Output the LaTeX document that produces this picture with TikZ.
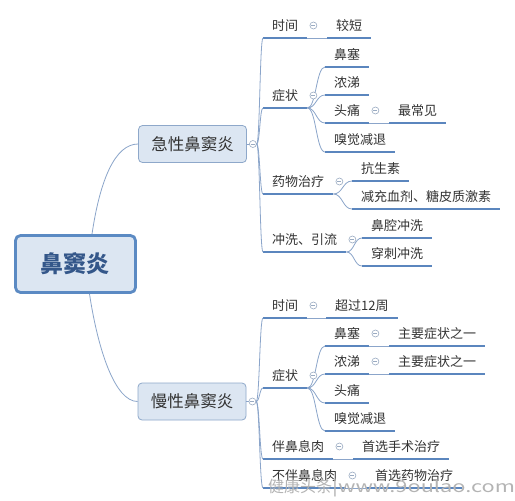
\documentclass[tikz,border=0pt]{standalone}
\usepackage{fontspec}
\usepackage{graphicx}
\setmainfont{Noto Sans CJK SC}
\usetikzlibrary{calc}
\definecolor{ulc}{HTML}{5B86BE}
\definecolor{linkc}{HTML}{8BA5CA}
\definecolor{boxfill}{HTML}{DCE6F2}
\definecolor{boxdraw}{HTML}{8EA8CA}
\definecolor{rootdraw}{HTML}{5B8AC3}
\definecolor{roottext}{HTML}{34578A}
\definecolor{txt}{HTML}{333333}
\definecolor{colc}{HTML}{9AABC2}
\definecolor{wmc}{HTML}{B4B4B4}
\tikzset{
  leaf/.style={anchor=south west, inner xsep=9pt, inner ysep=4.5pt,
    text height=9.5pt, text depth=2.75pt,
    font=\fontsize{13}{13}\selectfont, text=txt},
  ul/.style={draw=ulc, line width=2.2pt},
  link/.style={draw=linkc, line width=0.8pt},
  sconn/.style={to path={let \p1=(\tikztostart),\p2=(\tikztotarget) in
    .. controls ({(\x1+\x2)/2},\y1) and ({(\x1+\x2)/2},\y2) .. (\tikztotarget)}},
  lonebox/.style={draw=boxdraw, fill=boxfill, line width=0.8pt, rounded corners=4pt,
    minimum width=108pt, minimum height=37pt, inner sep=0pt,
    font=\fontsize{16.5}{16.5}\selectfont, text=txt},
  rootbox/.style={draw=rootdraw, fill=boxfill, line width=2.8pt, rounded corners=5pt,
    minimum width=120pt, minimum height=57pt, inner sep=0pt,
    font=\fontsize{23}{23}\selectfont\bfseries, text=roottext},
  colnode/.style={circle, draw=colc, fill=white, line width=0.6pt, minimum size=7pt,
    inner sep=0pt, path picture={\draw[colc, line width=0.6pt]
      ([xshift=-2pt]path picture bounding box.center) -- ([xshift=2pt]path picture bounding box.center);}},
  wmtext/.style={font=\fontsize{16}{16}\selectfont, inner sep=0pt, text=wmc,
    text height=11pt, text depth=2.5pt}
}
\newcommand\leafnode[4]{\node[leaf] (#1) at (#2,#3) {#4}; \draw[ul] (#1.south west) -- (#1.south east);}
\newcommand\colat[2]{\node[colnode] (#1) at ($(#2.south east)+(6,-12.5)$) {};}
\begin{document}
\begin{tikzpicture}[x=1pt,y=-1pt]
\useasboundingbox (0,0) rectangle (515,501);
\fill[white] (0,0) rectangle (515,501);

% main nodes
\node[rootbox] (root) at (75.5,264) {鼻窦炎};
\node[lonebox] (acute) at (192.5,144) {急性鼻窦炎};
\node[lonebox] (chronic) at (192,401.5) {慢性鼻窦炎};

% root links
\draw[link] ([xshift=16.5pt]root.north) .. controls (100,180) and (115,144) .. (acute.west);
\draw[link] ([xshift=14pt]root.south) .. controls (98,350) and (115,401.5) .. (chronic.west);

% ---------- acute ----------
\leafnode{a1}{263}{38}{时间}
\leafnode{a2}{263}{108}{症状}
\leafnode{a3}{263}{194}{药物治疗}
\leafnode{a4}{263}{252}{冲洗、引流}

\leafnode{a11}{327}{38}{较短}
\leafnode{a21}{325}{67}{鼻塞}
\leafnode{a22}{325}{95}{浓涕}
\leafnode{a23}{325}{123}{头痛}
\leafnode{a24}{325}{152}{嗅觉减退}
\leafnode{a231}{389}{123}{最常见}
\leafnode{a31}{352}{181}{抗生素}
\leafnode{a32}{352}{209}{减充血剂、糖皮质激素}
\leafnode{a41}{362}{238}{鼻腔冲洗}
\leafnode{a42}{362}{266}{穿刺冲洗}

\draw[link] (acute.east) -- ++(5,0);
\node[colnode] (ca) at ($(acute.east)+(6,0)$) {};
\foreach \nd in {a1,a2,a3,a4} \draw[link] (ca.east) to[sconn] (\nd.south west);
\draw[link] (a1.south east) -- (a11.south west);
\foreach \nd in {a21,a22,a23,a24} \draw[link] (a2.south east) to[sconn] (\nd.south west);
\draw[link] (a23.south east) -- (a231.south west);
\foreach \nd in {a31,a32} \draw[link] (a3.south east) to[sconn] (\nd.south west);
\foreach \nd in {a41,a42} \draw[link] (a4.south east) to[sconn] (\nd.south west);
\colat{ka1}{a1}
\colat{ka2}{a2}
\colat{ka3}{a3}
\colat{ka4}{a4}
\colat{ka23}{a23}

% ---------- chronic ----------
\leafnode{c1}{263}{318}{时间}
\leafnode{c2}{263}{388}{症状}
\leafnode{c3}{263}{459}{伴鼻息肉}
\leafnode{c4}{263}{488}{不伴鼻息肉}

\leafnode{c11}{326}{318}{超过12周}
\leafnode{c21}{325}{346}{鼻塞}
\leafnode{c22}{325}{374}{浓涕}
\leafnode{c23}{325}{403}{头痛}
\leafnode{c24}{325}{431}{嗅觉减退}
\leafnode{c211}{389}{346}{主要症状之一}
\leafnode{c221}{389}{374}{主要症状之一}
\leafnode{c31}{353}{459}{首选手术治疗}
\leafnode{c41}{366}{488}{首选药物治疗}

\draw[link] (chronic.east) -- ++(6,0);
\node[colnode] (cc) at ($(chronic.east)+(6,0)$) {};
\foreach \nd in {c1,c2,c3,c4} \draw[link] (cc.east) to[sconn] (\nd.south west);
\draw[link] (c1.south east) -- (c11.south west);
\foreach \nd in {c21,c22,c23,c24} \draw[link] (c2.south east) to[sconn] (\nd.south west);
\draw[link] (c21.south east) -- (c211.south west);
\draw[link] (c22.south east) -- (c221.south west);
\draw[link] (c3.south east) -- (c31.south west);
\draw[link] (c4.south east) -- (c41.south west);
\colat{kc1}{c1}
\colat{kc2}{c2}
\colat{kc21}{c21}
\colat{kc22}{c22}
\colat{kc3}{c3}
\colat{kc4}{c4}

% watermark
\node[wmtext, anchor=west] (wm) at (268,488) {健康头条\scalebox{1.36}[1]{|www.9oulao.com}};
\end{tikzpicture}
\end{document}
